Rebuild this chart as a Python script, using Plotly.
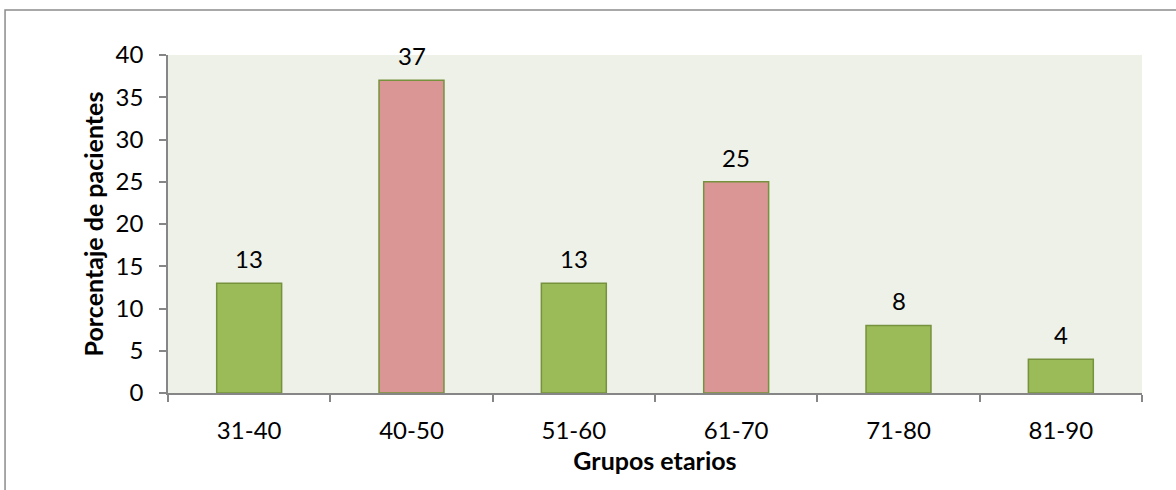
import plotly.graph_objects as go

categories = ["31-40", "40-50", "51-60", "61-70", "71-80", "81-90"]
values = [13, 37, 13, 25, 8, 4]
bar_colors = ["#9BBB59", "#D99694", "#9BBB59", "#D99694", "#9BBB59", "#9BBB59"]
y_ticks = [0, 5, 10, 15, 20, 25, 30, 35, 40]

FONT = "Lato, Calibri, Carlito, sans-serif"

fig = go.Figure()
fig.add_trace(go.Bar(
    x=categories, y=values, width=0.4,
    marker=dict(color=bar_colors, line=dict(color="#76923C", width=1.5)),
    hoverinfo="skip", showlegend=False,
))

for c, v in zip(categories, values):
    fig.add_annotation(x=c, y=v, text=str(v), showarrow=False, yanchor="bottom",
                       yshift=8, font=dict(family=FONT, size=24, color="#000000"))

fig.update_layout(
    width=1176, height=490,
    margin=dict(l=168, r=34, t=55, b=97),
    paper_bgcolor="#FFFFFF",
    plot_bgcolor="#EEF1E8",
    font=dict(family=FONT, size=24, color="#000000"),
    bargap=0.6,
    shapes=[dict(type="rect", xref="paper", yref="paper",
                 x0=-0.1673, x1=1.3, y0=-0.6, y1=1.1331,
                 line=dict(color="#8C8C8C", width=1.5), layer="below")],
)
fig.update_xaxes(
    type="category", tickson="boundaries", ticks="outside", ticklen=7,
    tickcolor="#868686", tickwidth=1.5,
    showline=True, linecolor="#868686", linewidth=1.5,
    showgrid=False, ticklabelstandoff=15,
    title=dict(text="<b>Grupos etarios</b>", font=dict(family=FONT, size=25), standoff=10),
)
fig.update_yaxes(
    range=[0, 40], tickvals=y_ticks, ticks="outside", ticklen=7,
    tickcolor="#868686", tickwidth=1.5,
    showline=True, linecolor="#868686", linewidth=1.5,
    showgrid=False, zeroline=False, ticklabelstandoff=11,
    title=dict(text="<b>Porcentaje de pacientes</b>", font=dict(family=FONT, size=25), standoff=5),
)

fig.write_html("out.html")
